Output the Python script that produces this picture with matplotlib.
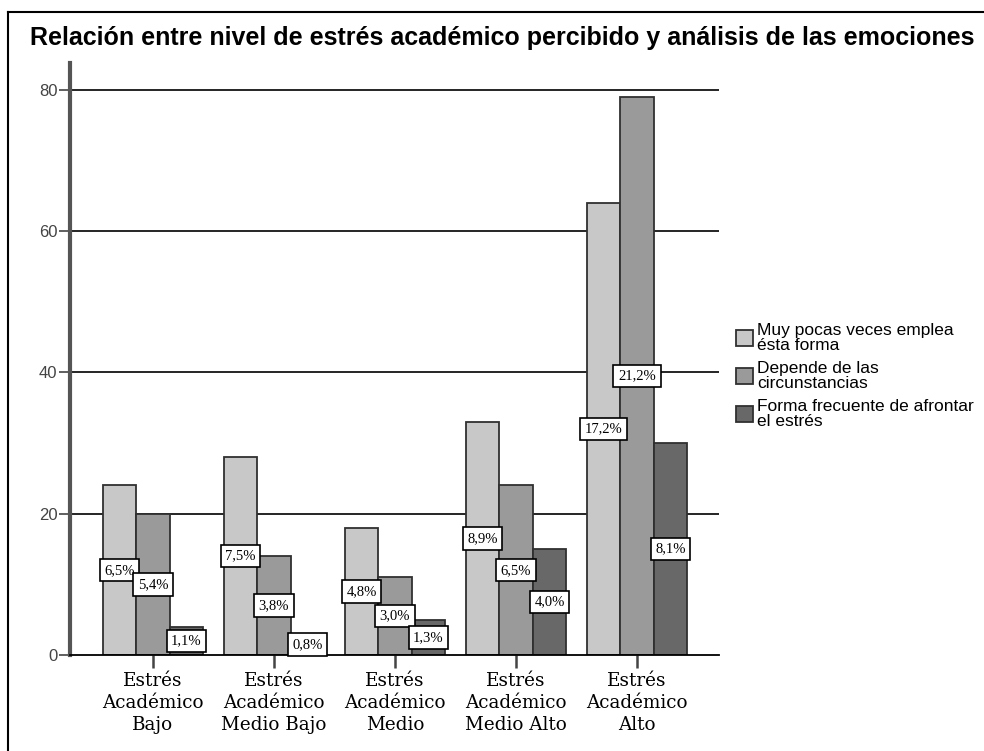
import matplotlib
matplotlib.use("Agg")
import matplotlib.pyplot as plt
from matplotlib.lines import Line2D
import numpy as np

categories = ["Estrés\nAcadémico\nBajo", "Estrés\nAcadémico\nMedio Bajo",
              "Estrés\nAcadémico\nMedio", "Estrés\nAcadémico\nMedio Alto",
              "Estrés\nAcadémico\nAlto"]
series_names = ["Muy pocas veces emplea\nésta forma",
                "Depende de las\ncircunstancias",
                "Forma frecuente de afrontar\nel estrés"]
muy_pocas = [24, 28, 18, 33, 64]
depende = [20, 14, 11, 24, 79]
frecuente = [4, 3, 5, 15, 30]
series = [muy_pocas, depende, frecuente]
colors = ["#c8c8c8", "#9a9a9a", "#686868"]
yticks = [0, 20, 40, 60, 80]
title = "Relación entre nivel de estrés académico percibido y análisis de las emociones"

total = sum(sum(s) for s in series)

fig = plt.figure(figsize=(9.84, 7.51), dpi=100)
ax = fig.add_axes([70/984, 1-655/751, (719-70)/984, (655-63)/751])

x = np.arange(len(categories))
w = 0.277
offsets = [-w, 0, w]
handles = []
for s, vals, col, off in zip(series_names, series, colors, offsets):
    b = ax.bar(x + off, vals, width=w, color=col, edgecolor="#303030",
               linewidth=1.3, zorder=3, label=s)
    handles.append(b)
    for xi, v in zip(x + off, vals):
        pct = f"{v/total*100:.1f}%".replace(".", ",")
        ax.text(xi, v/2, pct, ha="center", va="center", fontsize=10.5,
                family="Liberation Serif", zorder=5,
                bbox=dict(boxstyle="square,pad=0.32", fc="white", ec="black", lw=1.2))

ax.set_xlim(-0.686, 4.678)
ax.set_ylim(0, 83.82)
ax.set_yticks(yticks)
ax.set_yticklabels([str(t) for t in yticks], family="Liberation Sans", fontsize=12, color="#444444")
ax.set_xticks(x)
ax.set_xticklabels(categories, family="DejaVu Serif", fontsize=13.2, linespacing=1.3)
ax.tick_params(axis="y", length=8, width=1.2, color="#444444", pad=1)
ax.tick_params(axis="x", length=9, width=1.8, color="#444444", pad=3)
for t in yticks[1:]:
    ax.axhline(t, color="black", lw=1.2, zorder=1)
for sp in ["top", "right"]:
    ax.spines[sp].set_visible(False)
ax.spines["left"].set_color("#555555")
ax.spines["left"].set_linewidth(3)
ax.spines["bottom"].set_color("black")
ax.spines["bottom"].set_linewidth(1.3)
ax.spines["bottom"].set_zorder(4)

leg = fig.legend(handles=handles, loc="center left", bbox_to_anchor=(736/984, 1-376/751),
                 frameon=False, prop={"family": "Liberation Sans", "size": 12.5},
                 handlelength=1.0, handleheight=1.0, handletextpad=0.2,
                 labelspacing=0.45, borderaxespad=0, borderpad=0)
for t in leg.get_texts():
    t.set_linespacing(1.0)

fig.text(30/984, 1-38/751, title, ha="left", va="center", family="Liberation Sans",
         fontsize=18, fontweight="bold", color="black")

fig.add_artist(Line2D([8/984, 8/984], [0, 1-12/751], transform=fig.transFigure, color="black", lw=1.5))
fig.add_artist(Line2D([8/984, 1], [1-12/751, 1-12/751], transform=fig.transFigure, color="black", lw=1.5))

fig.savefig("out.png", dpi=100)
